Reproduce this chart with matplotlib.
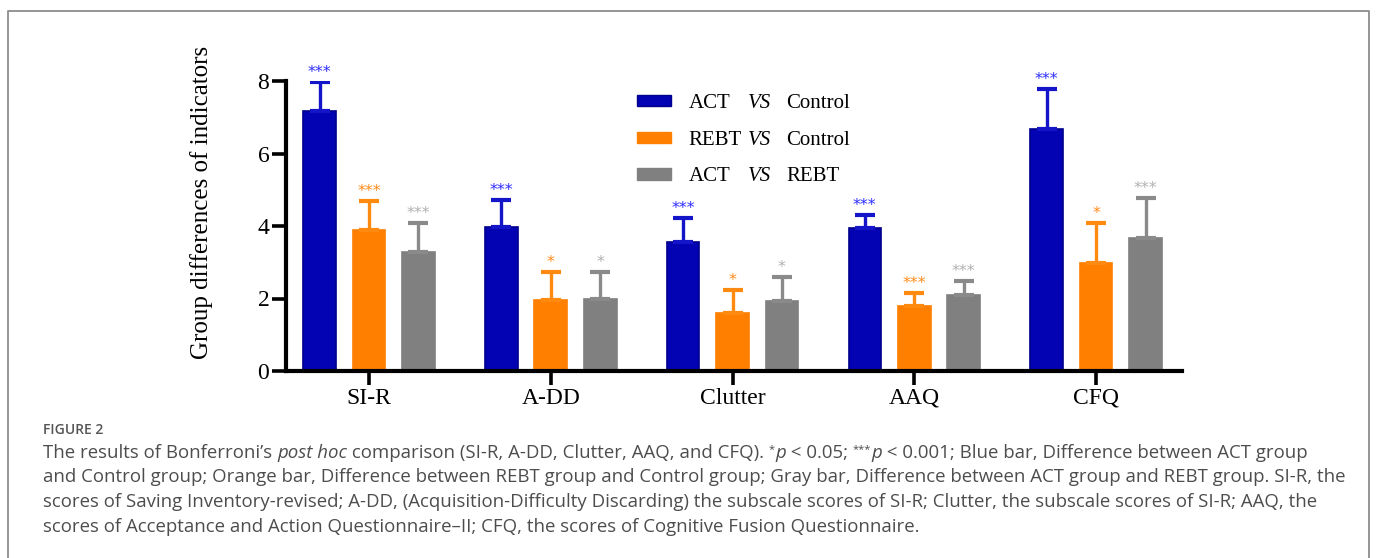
import matplotlib
matplotlib.use("Agg")
import matplotlib.pyplot as plt
import numpy as np
from matplotlib.patches import Patch
from matplotlib.lines import Line2D

# ---------------- data ----------------
categories = ["SI-R", "A-DD", "Clutter", "AAQ", "CFQ"]
act_vs_control = [7.18, 3.98, 3.57, 3.95, 6.67]
act_vs_control_err = [0.79, 0.74, 0.64, 0.36, 1.12]
act_vs_control_sig = ["***", "***", "***", "***", "***"]
rebt_vs_control = [3.90, 1.97, 1.61, 1.80, 2.99]
rebt_vs_control_err = [0.80, 0.75, 0.63, 0.35, 1.10]
rebt_vs_control_sig = ["***", "*", "*", "***", "*"]
act_vs_rebt = [3.27, 2.00, 1.94, 2.10, 3.67]
act_vs_rebt_err = [0.81, 0.72, 0.66, 0.39, 1.11]
act_vs_rebt_sig = ["***", "*", "*", "***", "***"]
legend_first = ["ACT", "REBT", "ACT"]
legend_mid = ["VS", "VS", "VS"]
legend_last = ["Control", "Control", "REBT"]
yticks = [0, 2, 4, 6, 8]
ylabel = "Group differences of indicators"

W, H = 1377, 558
fig = plt.figure(figsize=(W / 100, H / 100), dpi=100)

def fx(px):
    return px / W

def fy(py):
    return 1 - py / H

ax_left, ax_right, ax_top, ax_bot = 286, 1181.5, 81, 371
ax = fig.add_axes([fx(ax_left), fy(ax_bot), (ax_right - ax_left) / W, (ax_bot - ax_top) / H])

bar_colors = ["#0303b4", "#ff8000", "#808080"]
edge_colors = ["#00008c", "#ff8000", "#808080"]
err_colors = ["#1414c8", "#ff8a10", "#8a8a8a"]
star_colors = ["#2a2aff", "#ff8a1a", "#b0b0b0"]
offsets = [-0.272, 0.0, 0.272]
width = 0.18

x = np.arange(len(categories))
data = [
    (act_vs_control, act_vs_control_err, act_vs_control_sig),
    (rebt_vs_control, rebt_vs_control_err, rebt_vs_control_sig),
    (act_vs_rebt, act_vs_rebt_err, act_vs_rebt_sig),
]
handles = []
for i, (vals, errs, sigs) in enumerate(data):
    xs = x + offsets[i]
    ax.bar(xs, vals, width=width, color=bar_colors[i], edgecolor=edge_colors[i],
           linewidth=1.2, zorder=2)
    ax.errorbar(xs, vals, yerr=[np.zeros(len(vals)), errs], fmt="none",
                ecolor=err_colors[i], elinewidth=2.4, capsize=7.5, capthick=3, zorder=3)
    for xi, v, e, s in zip(xs, vals, errs, sigs):
        ax.annotate(s, (xi, v + e), xytext=(0, 1.5), textcoords="offset points",
                    ha="center", va="bottom", color=star_colors[i], fontsize=11.5,
                    fontfamily="DejaVu Sans", annotation_clip=False)
    handles.append(Patch(facecolor=bar_colors[i], edgecolor=edge_colors[i],
                         label=legend_first[i]))

ax.set_xlim(-0.457, 4.47)
ax.set_ylim(0, 8)
ax.set_yticks(yticks)
ax.set_xticks(x)
ax.set_xticklabels(categories)
for sp in ["top", "right"]:
    ax.spines[sp].set_visible(False)
for sp in ["left", "bottom"]:
    ax.spines[sp].set_linewidth(3)
ax.tick_params(axis="both", width=2.6, length=10, direction="out", labelsize=17, pad=2)
for lab in ax.get_xticklabels() + ax.get_yticklabels():
    lab.set_fontfamily("Liberation Serif")
ax.set_ylabel(ylabel, fontsize=18, fontfamily="Liberation Serif")
ax.yaxis.set_label_coords(fx(213), fy(202), transform=fig.transFigure)

leg = fig.legend(handles=handles, loc="upper left", bbox_to_anchor=(fx(637), fy(94)),
                 frameon=False, handlelength=1.63, handleheight=0.45,
                 handletextpad=0.85, labelspacing=0.85, borderpad=0, borderaxespad=0,
                 prop={"family": "Liberation Serif", "size": 15})

renderer = fig.canvas.get_renderer()
fig.canvas.draw()
for t, mid, last in zip(leg.get_texts(), legend_mid, legend_last):
    bb = t.get_window_extent(renderer)
    yc = (bb.y0 + bb.y1) / 2 / H
    fig.text(fx(748), yc, mid, fontsize=15, fontfamily="Liberation Serif",
             fontstyle="italic", va="center", ha="left")
    fig.text(fx(786), yc, last, fontsize=15, fontfamily="Liberation Serif",
             va="center", ha="left")

# frame (left, top, right edges)
frame_color = "#8c8c8c"
fig.add_artist(Line2D([fx(8), fx(8), fx(1369), fx(1369)], [fy(560), fy(11), fy(11), fy(560)],
                      transform=fig.transFigure, color=frame_color, linewidth=1.3))

# caption
cap_font = "Open Sans"
cap_color = "#4d4d4d"
fig.text(fx(43), fy(430), "FIGURE 2", fontsize=10, color="#555555", fontfamily=cap_font,
         fontweight="semibold", va="center", ha="left")

def run_width(txt, props):
    t1 = fig.text(0, 0, txt + "l", **props)
    t2 = fig.text(0, 0, "l", **props)
    w = t1.get_window_extent(renderer).width - t2.get_window_extent(renderer).width
    t1.remove(); t2.remove()
    return w

def make_lines(size):
    N = dict(fontsize=size, fontfamily=cap_font, color=cap_color)
    I = dict(fontsize=size, fontfamily=cap_font, color=cap_color, fontstyle="italic")
    S = dict(fontsize=size * 0.6, fontfamily=cap_font, color=cap_color)
    lines = [
        [("The results of Bonferroni\u2019s ", N), ("post hoc", I),
         (" comparison (SI-R, A-DD, Clutter, AAQ, and CFQ). ", N), ("*", S), ("p", I),
         (" < 0.05; ", N), ("***", S), ("p", I),
         (" < 0.001; Blue bar, Difference between ACT group", N)],
        [("and Control group; Orange bar, Difference between REBT group and Control group; Gray bar, Difference between ACT group and REBT group. SI-R, the", N)],
        [("scores of Saving Inventory-revised; A-DD, (Acquisition-Difficulty Discarding) the subscale scores of SI-R; Clutter, the subscale scores of SI-R; AAQ, the", N)],
        [("scores of Acceptance and Action Questionnaire\u2013II; CFQ, the scores of Cognitive Fusion Questionnaire.", N)],
    ]
    return lines, S

base_size = 10.0
lines0, _ = make_lines(base_size)
w0 = sum(run_width(t, p) for t, p in lines0[0])
size = base_size * (1304 - 43) / w0
lines, S = make_lines(size)

baselines = [458, 482.5, 507, 531.5]
for runs, base in zip(lines, baselines):
    xp = 43
    for txt, props in runs:
        dy = 6 if props is S else 0
        fig.text(fx(xp), fy(base - dy), txt, va="baseline", ha="left", **props)
        xp += run_width(txt, props)

fig.savefig("out.png", dpi=100)
